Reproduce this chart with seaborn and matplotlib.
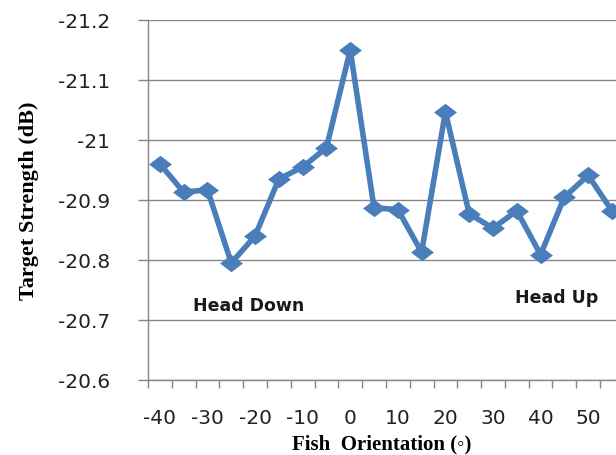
import matplotlib
matplotlib.use("Agg")
import matplotlib.pyplot as plt
import seaborn as sns
import numpy as np
from matplotlib.path import Path

# ---- data ----
angles = [-40, -35, -30, -25, -20, -15, -10, -5, 0, 5, 10, 15, 20, 25, 30, 35, 40, 45, 50, 55]
target_strength = [-20.96, -20.913, -20.917, -20.795, -20.84, -20.935, -20.955, -20.987,
                   -21.15, -20.887, -20.884, -20.813, -21.047, -20.877, -20.853, -20.882,
                   -20.809, -20.905, -20.941, -20.882]
xtick_values = [-40, -30, -20, -10, 0, 10, 20, 30, 40, 50]
ytick_values = [-21.2, -21.1, -21.0, -20.9, -20.8, -20.7, -20.6]
ytick_labels = ["-21.2", "-21.1", "-21", "-20.9", "-20.8", "-20.7", "-20.6"]

sns.set_style("white")

fig = plt.figure(figsize=(6.16, 4.56), dpi=100)
ax = fig.add_axes([148 / 616, 75 / 456, 468 / 616, 360 / 456])

line_color = "#4A7EBB"
grid_color = "#868686"

diamond = Path([(-1, 0), (0, 0.76), (1, 0), (0, -0.76), (-1, 0)],
               [Path.MOVETO, Path.LINETO, Path.LINETO, Path.LINETO, Path.CLOSEPOLY])

sns.lineplot(x=angles, y=target_strength, ax=ax, color=line_color, linewidth=4.0,
             marker=diamond, markersize=16.5, markeredgewidth=0, sort=False,
             solid_joinstyle="round", zorder=3)

ax.set_xlim(-42.5, 55.85)
ax.set_ylim(-20.6, -21.2)

# y axis
ax.set_yticks(ytick_values)
ax.set_yticklabels(ytick_labels)
ax.yaxis.grid(True, color=grid_color, linewidth=1.0)
ax.xaxis.grid(False)
ax.tick_params(axis="y", which="major", length=7, width=1.0, color=grid_color,
               direction="out", pad=20, labelsize=14.5, labelcolor="#222222", left=True)

# x axis: labels on categories, tick marks between categories
ax.set_xticks(xtick_values)
ax.set_xticklabels([str(v) for v in xtick_values])
ax.set_xticks(np.arange(-42.5, 56, 5), minor=True)
ax.tick_params(axis="x", which="major", length=0, pad=20, labelsize=14.5,
               labelcolor="#222222", bottom=True)
ax.tick_params(axis="x", which="minor", length=5.5, width=1.0, color=grid_color,
               direction="out", bottom=True)

for side in ["top", "right"]:
    ax.spines[side].set_visible(False)
for side in ["left", "bottom"]:
    ax.spines[side].set_color(grid_color)
    ax.spines[side].set_linewidth(1.0)

for lbl in ax.get_xticklabels() + ax.get_yticklabels():
    lbl.set_family(["DejaVu Sans"])

ax.set_ylabel("Target Strength (dB)", family=["Liberation Serif", "DejaVu Serif"],
              fontweight="bold", fontsize=16, color="black", va="center")
ax.yaxis.set_label_coords(-0.255, 0.5)
ax.set_xlabel("Fish  Orientation (\u25e6)", family=["Liberation Serif", "DejaVu Serif"],
              fontweight="bold", fontsize=15, color="black", va="center")
ax.xaxis.set_label_coords(0.5, -(444 - 381) / 360)

ax.text(-33.1, -20.725, "Head Down", ha="left", va="center", fontsize=12.5,
        fontweight="bold", color="#1a1a1a", family=["DejaVu Sans"])
ax.text(34.6, -20.738, "Head Up", ha="left", va="center", fontsize=12.5,
        fontweight="bold", color="#1a1a1a", family=["DejaVu Sans"])

fig.savefig("out.png", dpi=100)
